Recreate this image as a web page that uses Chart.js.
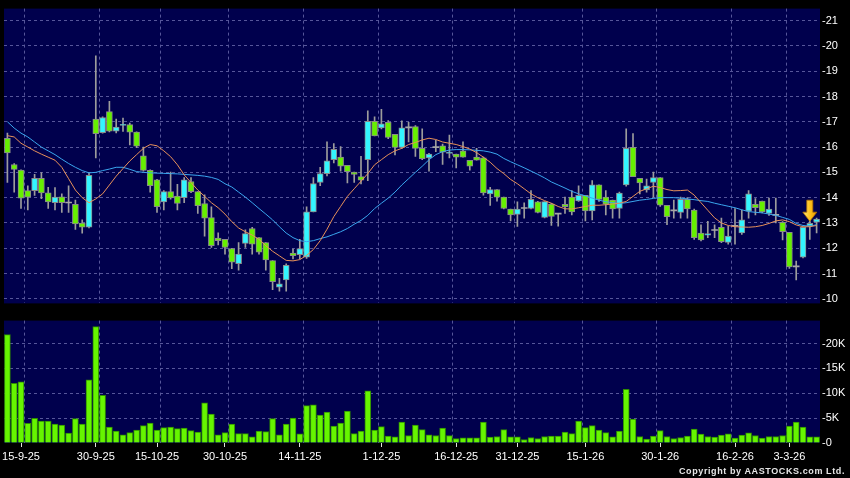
<!DOCTYPE html>
<html><head><meta charset="utf-8">
<script src="https://cdn.jsdelivr.net/npm/chart.js@4/dist/chart.umd.min.js"></script>
<style>
html,body{margin:0;padding:0;background:#000;width:850px;height:478px;overflow:hidden}
#wrap{position:relative;width:850px;height:478px;background:#000}
#pc{position:absolute;left:0;top:0}
#vc{position:absolute;left:0;top:312px}
#copy{position:absolute;right:5px;top:466px;color:#e6e6e6;font:bold 9px "Liberation Sans",Arial,sans-serif;letter-spacing:0.6px;white-space:nowrap}
</style></head>
<body>
<div id="wrap">
<canvas id="pc" width="850" height="312"></canvas>
<canvas id="vc" width="850" height="166"></canvas>
<div id="copy">Copyright by AASTOCKS.com Ltd.</div>
</div>
<script>
// ---- data ----
const open = [16.35,15.31,15.09,14.28,14.28,14.76,14.19,13.80,14.03,13.79,
13.74,12.99,12.83,17.11,16.57,17.40,16.63,16.86,16.89,16.59,
15.65,15.08,14.70,13.83,14.24,14.06,14.00,14.64,14.24,13.77,
13.21,12.40,12.35,11.99,11.39,12.19,12.78,12.42,12.22,11.51,
10.46,10.75,11.81,11.75,11.65,13.44,14.60,14.95,15.50,15.60,
15.28,15.01,14.83,15.50,17.02,16.76,16.98,16.50,15.99,16.76,
16.81,15.95,15.57,15.98,16.05,15.75,15.72,15.85,15.48,15.60,
15.57,14.15,14.32,14.02,13.55,13.34,13.57,13.57,13.83,13.22,
13.75,13.35,13.74,14.02,13.87,14.09,13.48,14.51,14.02,13.90,
13.57,14.50,15.99,14.76,14.31,14.60,14.79,13.70,13.48,13.42,
13.93,13.51,12.60,12.52,12.70,12.83,12.23,12.87,12.61,13.47,
13.74,13.86,13.38,13.30,13.02,12.63,11.26,11.65,12.88,13.03];
const high = [16.55,15.35,15.10,14.47,14.92,14.99,14.41,14.40,14.15,14.47,
13.90,13.12,14.99,19.61,17.20,17.81,17.11,17.15,16.95,16.60,
16.00,15.10,14.72,14.28,15.01,14.53,14.79,14.79,14.24,14.11,
13.64,12.61,12.35,12.00,12.22,12.73,12.83,12.42,12.22,11.51,
10.81,11.38,11.97,12.35,13.64,14.79,15.20,16.21,16.14,16.02,
15.28,15.01,15.63,17.43,17.20,17.49,17.05,16.50,17.04,16.98,
16.85,16.72,15.75,16.27,16.12,16.47,15.72,16.21,15.48,15.95,
15.60,14.41,14.32,14.02,13.55,13.83,13.80,14.28,13.85,13.84,
13.78,13.35,14.02,14.28,14.47,14.09,14.67,14.51,14.28,13.90,
14.22,16.72,16.53,14.76,14.73,15.01,14.79,13.70,13.90,14.02,
14.00,13.55,12.93,13.06,12.93,13.19,12.87,13.57,13.51,14.28,
13.96,13.86,13.98,13.98,13.05,12.63,11.49,12.83,13.19,13.19];
const low = [14.60,14.22,13.57,13.51,14.09,13.96,13.57,13.51,13.42,13.42,
12.74,12.60,12.80,15.57,16.55,16.60,16.56,16.62,16.08,15.98,
15.05,14.22,13.42,13.51,13.94,13.51,13.80,14.20,13.38,12.48,
12.03,12.13,11.77,11.19,11.13,12.03,11.77,11.77,11.13,10.36,
10.30,10.30,11.58,11.58,11.60,13.44,14.47,14.86,15.37,15.05,
14.58,14.60,14.54,14.67,16.44,16.72,16.33,15.69,15.95,16.20,
15.63,15.50,15.05,15.82,15.31,15.57,15.18,15.60,15.09,15.48,
14.10,13.69,13.86,13.55,13.08,12.86,13.19,13.55,13.40,13.20,
12.90,12.87,13.38,13.32,13.85,13.08,13.12,13.85,13.32,13.19,
13.19,14.45,14.83,14.15,14.22,14.02,13.65,12.93,13.19,13.19,
13.19,12.35,12.29,12.42,12.42,12.22,12.16,12.16,12.55,13.19,
13.32,13.40,13.30,13.00,12.33,11.20,10.75,11.62,12.35,12.61];
const close = [15.77,15.12,13.98,14.02,14.76,14.19,13.83,14.02,13.80,13.79,
12.96,12.83,14.88,16.53,17.17,16.63,16.79,16.90,16.59,16.04,
15.08,14.47,13.64,14.24,13.99,13.77,14.70,14.24,13.68,13.19,
12.10,12.30,12.03,11.45,11.77,12.58,12.16,11.84,11.54,10.68,
10.59,11.32,11.71,11.99,13.44,14.56,14.95,15.46,15.91,15.24,
15.03,14.92,14.69,17.02,16.44,16.92,16.38,15.99,16.76,16.76,
15.95,15.54,15.72,15.98,15.80,15.80,15.60,15.60,15.24,15.48,
14.19,14.32,14.02,13.57,13.32,13.55,13.57,13.93,13.42,13.84,
13.26,13.35,13.64,13.44,14.09,13.48,14.51,13.93,13.74,13.55,
14.18,15.95,14.83,14.58,14.47,14.79,13.70,13.25,13.48,13.93,
13.55,12.42,12.33,12.58,12.70,12.26,12.48,12.87,13.12,14.15,
13.60,13.44,13.55,13.30,12.65,11.26,11.26,12.83,12.98,13.15];
const ma10 = [16.45,16.40,16.15,16.00,15.85,15.72,15.60,15.48,15.20,14.75,
14.30,14.00,13.80,13.95,14.15,14.50,14.85,15.15,15.45,15.70,
15.95,16.10,16.05,15.85,15.62,15.30,14.90,14.60,14.30,14.05,
13.80,13.60,13.35,13.05,12.80,12.65,12.52,12.35,12.10,11.88,
11.70,11.52,11.50,11.55,11.72,11.95,12.30,12.75,13.25,13.65,
14.05,14.35,14.65,14.95,15.30,15.50,15.70,15.85,15.95,16.10,
16.18,16.28,16.35,16.30,16.20,16.15,16.10,16.02,15.92,15.78,
15.60,15.40,15.15,14.95,14.72,14.55,14.35,14.15,14.00,13.88,
13.78,13.65,13.56,13.55,13.60,13.65,13.70,13.70,13.72,13.75,
13.78,13.85,14.05,14.25,14.35,14.45,14.40,14.32,14.27,14.28,
14.30,14.10,13.80,13.50,13.20,13.00,12.90,12.85,12.84,12.83,
12.85,12.90,12.98,13.08,13.12,13.05,12.92,12.85,12.85,12.90];
const ma20 = [17.00,16.75,16.55,16.40,16.20,16.00,15.85,15.70,15.52,15.35,
15.20,15.07,14.98,15.00,15.07,15.13,15.20,15.20,15.12,15.03,
15.00,14.98,14.97,14.96,14.95,14.94,14.92,14.90,14.88,14.85,
14.80,14.72,14.55,14.42,14.22,14.02,13.80,13.57,13.35,13.12,
12.85,12.60,12.42,12.30,12.26,12.30,12.38,12.45,12.55,12.65,
12.78,12.95,13.10,13.30,13.57,13.78,13.98,14.22,14.50,14.75,
15.00,15.24,15.50,15.70,15.82,15.88,15.90,15.90,15.89,15.87,
15.85,15.80,15.72,15.55,15.42,15.30,15.18,15.05,14.92,14.78,
14.62,14.50,14.38,14.25,14.15,14.07,13.98,13.90,13.84,13.80,
13.77,13.80,13.85,13.90,13.93,13.97,14.00,14.00,14.00,13.98,
13.95,13.92,13.88,13.85,13.78,13.72,13.66,13.60,13.52,13.45,
13.42,13.40,13.35,13.30,13.22,13.14,12.98,12.90,12.87,12.93];
const volume = [21800,12000,12300,3960,4950,4400,4400,3800,3600,2000,
4900,3800,12700,23400,9600,3200,2400,1650,2100,2600,
3500,4000,2600,3100,3200,2900,3000,2500,2200,8100,
5800,1650,2100,3800,1900,1900,1250,2400,2300,4900,
1650,3800,5000,1850,7500,7700,5600,6200,3400,4000,
6400,1900,2400,10500,2600,3300,1400,1250,4200,1500,
3600,2700,1650,1500,3000,1500,900,1050,1050,1050,
4200,1200,1300,2700,1250,1250,700,1100,900,1300,
1400,1400,2200,1900,4400,3100,3500,2600,2100,1250,
2400,10800,4800,1300,800,1400,2500,1300,900,1100,
1400,2800,1800,1300,1200,1600,1850,1000,1600,2050,
1500,1000,1300,1300,1500,3400,4200,3200,1250,1250];
const priceTicks = [10,11,12,13,14,15,16,17,18,19,20,21];
const volTicks = [0,5000,10000,15000,20000];
const dateLabels = ['15-9-25','30-9-25','15-10-25','30-10-25','14-11-25','1-12-25','16-12-25','31-12-25','15-1-26','30-1-26','16-2-26','3-3-26'];
const dateLabelIndex = [2,13,22,32,43,55,66,75,85,96,107,115];
const dateGridIndex = [2,13,22,32,43,54,65,74,84,95,106,114];
const arrowIndex = 118, arrowFrom = 13.9, arrowTo = 13.07;

// ---- styling ----
const FONT = '"Liberation Sans", Arial, sans-serif';
const NAVY = '#00004d';
const GRID = '#56569a';
const UP = '#33f5ff', DOWN = '#66f000', FLAT = '#a6a6a6';
Chart.defaults.font.family = FONT;
Chart.defaults.font.size = 11;
Chart.defaults.color = '#ffffff';

const cats = open.map((_, i) => i);
const labelMap = {}; dateLabelIndex.forEach((k, j) => labelMap[k] = dateLabels[j]);
const gridSet = new Set(dateGridIndex.map(k => k + 1)); // line sits on the boundary after the dated candle
const labelSet = new Set(dateLabelIndex);
const dir = open.map((o, i) => close[i] > o ? 1 : close[i] < o ? -1 : 0);

const bgPlugin = { id: 'bgfill', beforeDraw(c) {
  const {ctx, chartArea: a} = c; ctx.save(); ctx.fillStyle = NAVY;
  ctx.fillRect(a.left, a.top, a.right - a.left, a.bottom - a.top); ctx.restore(); } };

const arrowPlugin = { id: 'arrow', afterDatasetsDraw(c) {
  const ctx = c.ctx, x = c.scales.x.getPixelForValue(arrowIndex);
  const y0 = c.scales.y.getPixelForValue(arrowFrom), y1 = c.scales.y.getPixelForValue(arrowTo);
  const head = 9, sw = 3, hw = 7;
  ctx.save();
  const g = ctx.createLinearGradient(x - hw, 0, x + hw, 0);
  g.addColorStop(0, '#ffe680'); g.addColorStop(0.5, '#ffc21a'); g.addColorStop(1, '#e89400');
  ctx.fillStyle = g; ctx.strokeStyle = '#b87400'; ctx.lineWidth = 0.8;
  ctx.beginPath();
  ctx.moveTo(x - sw, y0); ctx.lineTo(x + sw, y0); ctx.lineTo(x + sw, y1 - head);
  ctx.lineTo(x + hw, y1 - head); ctx.lineTo(x, y1); ctx.lineTo(x - hw, y1 - head);
  ctx.lineTo(x - sw, y1 - head); ctx.closePath(); ctx.fill(); ctx.stroke();
  ctx.restore(); } };

const xGrid = {
  type: 'category', offset: true,
  grid: { offset: true, drawTicks: false, lineWidth: 1,
    color: ctx => gridSet.has(ctx.index) ? GRID : 'rgba(0,0,0,0)' },
  border: { display: false, dash: [3, 3] },
  ticks: { display: false, autoSkip: false },
  afterFit: s => { s.height = 0; }
};

new Chart(document.getElementById('pc'), {
  data: {
    labels: cats,
    datasets: [
      { type: 'bar', label: 'wick', data: low.map((l, i) => [l, high[i]]), grouped: false,
        barThickness: 1, backgroundColor: '#9c9c9c', borderWidth: 0, order: 3 },
      { type: 'bar', label: 'body', data: open.map((o, i) => [o, close[i]]), grouped: false,
        barThickness: 6, minBarLength: 1, borderSkipped: false,
        backgroundColor: dir.map(d => d > 0 ? UP : d < 0 ? DOWN : FLAT),
        borderColor: '#8a8a8a', borderWidth: dir.map(d => d === 0 ? 0 : 1), order: 2 },
      { type: 'line', label: 'MA10', data: ma10, borderColor: '#e8915a', borderWidth: 1,
        pointRadius: 0, tension: 0, order: 1 },
      { type: 'line', label: 'MA20', data: ma20, borderColor: '#3aa6ee', borderWidth: 1,
        pointRadius: 0, tension: 0, order: 1 }
    ]
  },
  options: {
    responsive: false, animation: false, events: [],
    layout: { padding: { left: 4, top: 5, right: 0, bottom: 5 } },
    plugins: { legend: { display: false }, tooltip: { enabled: false } },
    scales: {
      x: xGrid,
      y: { type: 'linear', position: 'right', min: 9.819, max: 21.474,
        afterBuildTicks: s => { s.ticks = priceTicks.map(v => ({ value: v })); },
        grid: { color: GRID, drawTicks: false, lineWidth: 1 },
        border: { display: false, dash: [3, 3] },
        ticks: { padding: 2, color: '#ffffff', callback: v => '-' + v },
        afterFit: s => { s.width = 30; } }
    }
  },
  plugins: [bgPlugin, arrowPlugin]
});

new Chart(document.getElementById('vc'), {
  type: 'bar',
  data: {
    labels: cats,
    datasets: [
      { label: 'Volume', data: volume, barThickness: 6, backgroundColor: '#66f500',
        borderColor: '#2e8c00', borderWidth: 1, borderSkipped: 'start', xAxisID: 'x', yAxisID: 'y' }
    ]
  },
  options: {
    responsive: false, animation: false, events: [],
    layout: { padding: { left: 4, top: 7, right: 0, bottom: 0 } },
    plugins: { legend: { display: false }, tooltip: { enabled: false } },
    scales: {
      x: xGrid,
      xl: { type: 'category', position: 'bottom', offset: true,
        grid: { offset: false, drawOnChartArea: false, drawTicks: true, tickLength: 4,
          tickColor: ctx => labelSet.has(ctx.index) ? '#e0e0e0' : 'rgba(0,0,0,0)' },
        border: { display: false },
        ticks: { autoSkip: false, maxRotation: 0, minRotation: 0, padding: 3, color: '#ffffff',
          callback: (v, i) => labelMap[i] || '' },
        afterFit: s => { s.height = 35; } },
      y: { type: 'linear', position: 'right', min: 0, max: 24614,
        afterBuildTicks: s => { s.ticks = volTicks.map(v => ({ value: v })); },
        grid: { drawTicks: false, lineWidth: 1,
          color: ctx => (ctx.tick && ctx.tick.value === 0) ? 'rgba(0,0,0,0)' : GRID },
        border: { display: false, dash: [3, 3] },
        ticks: { padding: 2, color: '#ffffff', callback: v => '-' + (v === 0 ? '0' : (v / 1000) + 'K') },
        afterFit: s => { s.width = 30; } }
    }
  },
  plugins: [bgPlugin]
});
</script>
</body></html>
